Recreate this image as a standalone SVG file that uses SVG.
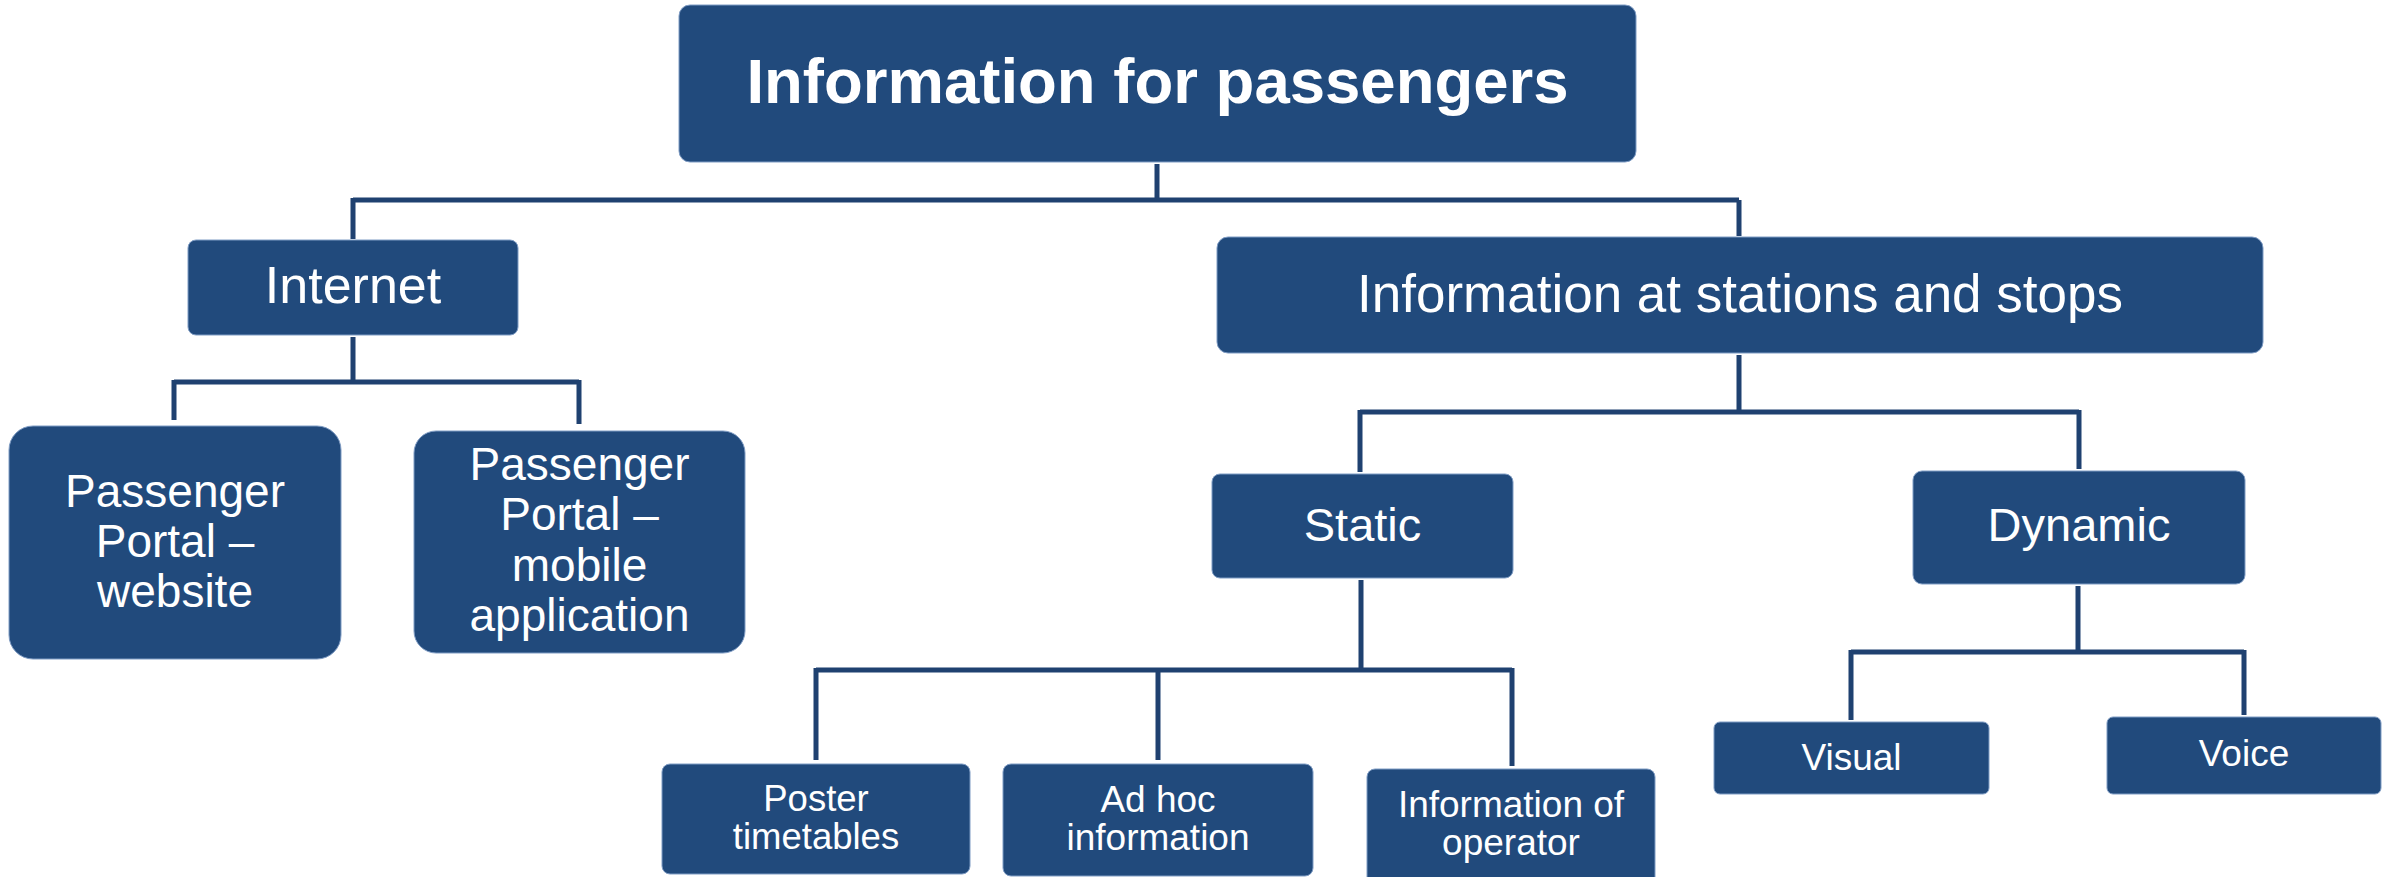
<svg xmlns="http://www.w3.org/2000/svg" width="2390" height="877" viewBox="0 0 2390 877">
<style>
.box{fill:#214A7C;stroke:#7f9cc4;stroke-width:1}
.t{fill:#ffffff;font-family:"Liberation Sans",Arial,sans-serif;text-anchor:middle}
.c{fill:none;stroke:#1F4170;stroke-width:5;stroke-linecap:butt}
</style>
<rect width="2390" height="877" fill="#ffffff"/>
<g id="connectors">
<path class="c" d="M1157 164V200M353 200H1739M353 198V239M1739 200V236"/>
<path class="c" d="M353 337V382M174 382H579M174 380V420M579 380V424"/>
<path class="c" d="M1739 355V412M1360 412H2079M1360 410V472M2079 410V469"/>
<path class="c" d="M1361 580V670M816 670H1512M816 668V760M1158 668V760M1512 668V766"/>
<path class="c" d="M2078 586V652M1851 652H2244M1851 650V720M2244 650V715"/>
</g>
<g id="n-root">
<rect class="box" x="679" y="5" width="957" height="157" rx="11"/>
<text class="t" x="1157.5" y="103" font-size="63.5" font-weight="bold">Information for passengers</text>
</g>
<g id="n-internet">
<rect class="box" x="188" y="240" width="330" height="95" rx="8"/>
<text class="t" x="353" y="303" font-size="52">Internet</text>
</g>
<g id="n-website">
<rect class="box" x="9" y="426" width="332" height="233" rx="24"/>
<text class="t" font-size="46"><tspan x="175" y="507">Passenger</tspan><tspan x="175" y="557">Portal –</tspan><tspan x="175" y="607">website</tspan></text>
</g>
<g id="n-mobile">
<rect class="box" x="414" y="431" width="331" height="222" rx="22"/>
<text class="t" font-size="46"><tspan x="579.5" y="480">Passenger</tspan><tspan x="579.5" y="530">Portal –</tspan><tspan x="579.5" y="581">mobile</tspan><tspan x="579.5" y="631">application</tspan></text>
</g>
<g id="n-stations">
<rect class="box" x="1217" y="237" width="1046" height="116" rx="11"/>
<text class="t" x="1740" y="312" font-size="53">Information at stations and stops</text>
</g>
<g id="n-static">
<rect class="box" x="1212" y="474" width="301" height="104" rx="8"/>
<text class="t" x="1362.5" y="541" font-size="47">Static</text>
</g>
<g id="n-dynamic">
<rect class="box" x="1913" y="471" width="332" height="113" rx="9"/>
<text class="t" x="2079" y="541" font-size="47">Dynamic</text>
</g>
<g id="n-poster">
<rect class="box" x="662" y="764" width="308" height="110" rx="8"/>
<text class="t" font-size="36.5"><tspan x="816" y="811">Poster</tspan><tspan x="816" y="849">timetables</tspan></text>
</g>
<g id="n-adhoc">
<rect class="box" x="1003" y="764" width="310" height="112" rx="8"/>
<text class="t" font-size="37"><tspan x="1158" y="812">Ad hoc</tspan><tspan x="1158" y="850">information</tspan></text>
</g>
<g id="n-operator">
<rect class="box" x="1367" y="769" width="288" height="120" rx="8"/>
<text class="t" font-size="37"><tspan x="1511" y="817">Information of</tspan><tspan x="1511" y="855">operator</tspan></text>
</g>
<g id="n-visual">
<rect class="box" x="1714" y="722" width="275" height="72" rx="6"/>
<text class="t" x="1851.5" y="770" font-size="37">Visual</text>
</g>
<g id="n-voice">
<rect class="box" x="2107" y="717" width="274" height="77" rx="6"/>
<text class="t" x="2244" y="766" font-size="37">Voice</text>
</g>
</svg>
